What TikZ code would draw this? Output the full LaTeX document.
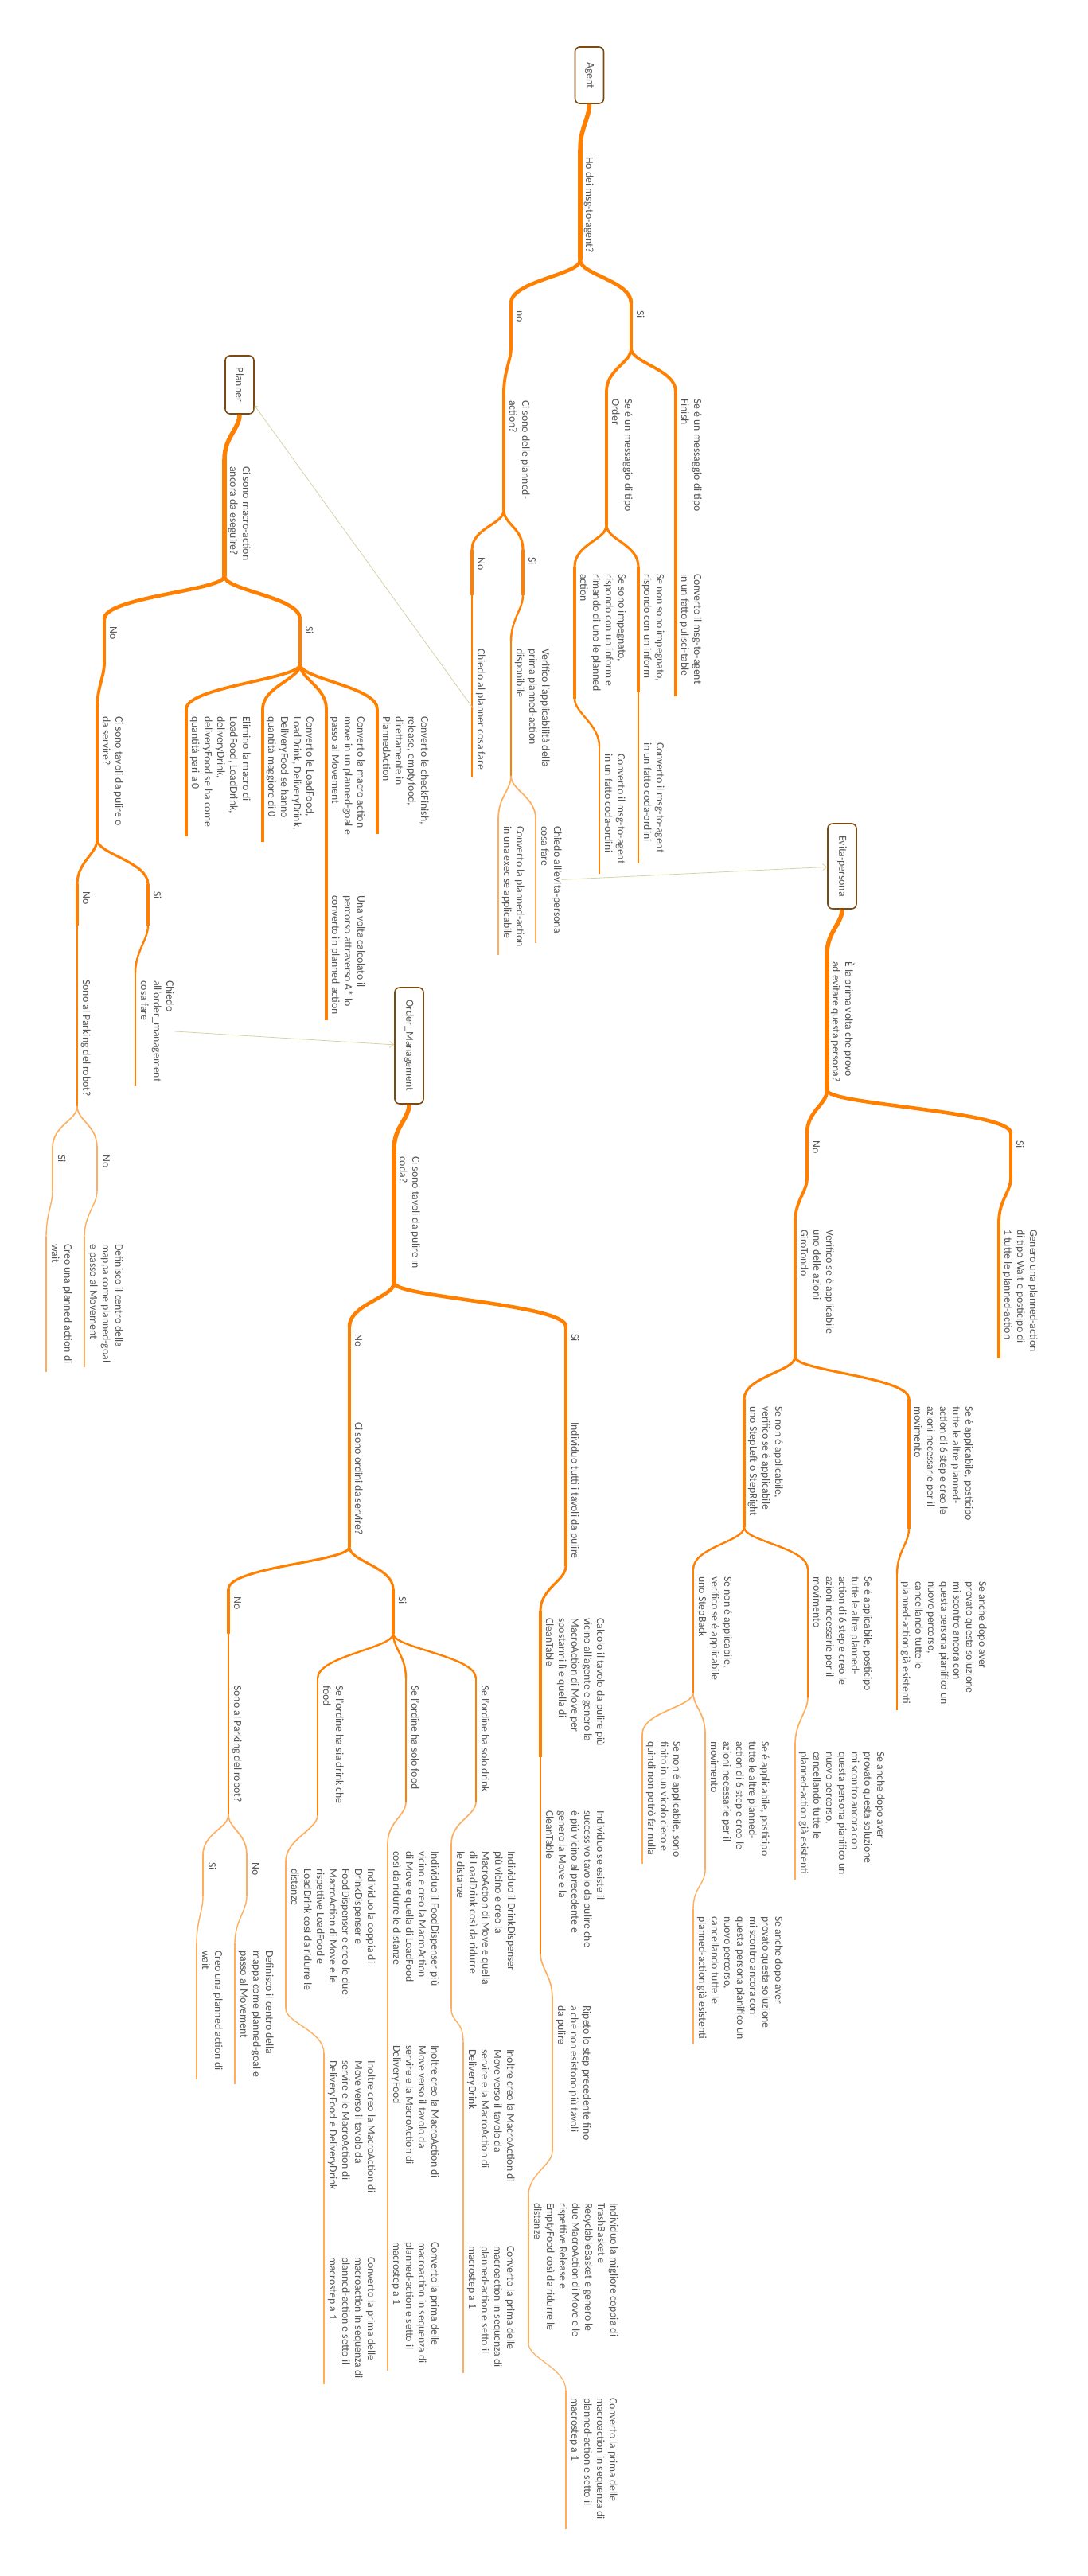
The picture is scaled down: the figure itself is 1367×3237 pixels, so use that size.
\documentclass[tikz,border=0pt]{standalone}
\usepackage{fontspec}
\setmainfont{Carlito}
\usetikzlibrary{arrows.meta,calc}

\definecolor{mmorange}{HTML}{FF7F00}
\definecolor{mmlight}{HTML}{FFAE5E}
\definecolor{txtgray}{HTML}{555555}
\definecolor{boxbrown}{HTML}{7B4A12}
\definecolor{reflink}{HTML}{D6D2A6}
\newcommand{\tfont}{\fontsize{13.8}{16}\selectfont}

\begin{document}
\begin{tikzpicture}[
  x=1pt, y=-1pt,
  l1/.style={draw=mmorange, line width=5.5pt},
  l2/.style={draw=mmorange, line width=4.6pt},
  l3/.style={draw=mmorange, line width=3.8pt},
  l4/.style={draw=mmorange, line width=3.1pt},
  l5/.style={draw=mmorange, line width=2.4pt},
  l6/.style={draw=mmlight, line width=1.7pt},
  l7/.style={draw=mmlight, line width=1.4pt},
  l8/.style={draw=mmlight, line width=1.2pt},
  txt/.style={rotate=-90, anchor=south west, inner sep=0pt, align=left,
    text=txtgray, font=\tfont, execute at begin node=\strut, execute at end node=\strut},
  rootbox/.style={rotate=-90, draw=boxbrown, line width=1.6pt, rounded corners=6pt,
    fill=white, minimum height=36pt, inner sep=0pt, text=txtgray, font=\tfont},
  ref/.style={draw=reflink, line width=0.8pt, -{Straight Barb[length=5pt,width=8pt]}},
]
\useasboundingbox (0,0) rectangle (1367,3237);

% topic: name, x, text start, underline end, level, text
\def\topic#1#2#3#4#5#6{%
  \coordinate (#1-a) at (#2,#3-9);
  \coordinate (#1-b) at (#2,#4);
  \draw[#5] (#1-a) -- (#1-b);
  \node[txt] (#1) at ($(#1-a)+(2,9)$) {#6};
}
% branch from the end of one topic to the start of the next
\def\link#1#2#3{\draw[#3] (#1-b) .. controls +(0,18) and +(0,-28) .. (#2-a);}

\def\postpone{Se é applicabile, posticipo\\tutte le altre planned-\\action di 6 step e creo le\\azioni necessarie per il\\movimento}
\def\anchedopo{Se anche dopo aver\\provato questa soluzione\\mi scontro ancora con\\questa persona pianifico un\\nuovo percorso,\\cancellando tutte le\\planned-action già esistenti}
\def\convfirst{Converto la prima delle\\macroaction in sequenza di\\planned-action e setto il\\macrostep a 1}

% ---------------- Agent ----------------
\node[rootbox, minimum width=71pt] (agent) at (740.5,94.5) {Agent};
\coordinate (agent-b) at (agent.east);
\topic{hodei}{729}{197}{327}{l1}{Ho dei msg-to-agent?}
\topic{ano}{642}{390}{436}{l2}{no}
\topic{asi}{793}{390}{438}{l2}{Si}
\topic{delle}{633}{503}{641}{l3}{Ci sono delle planned-\\action?}
\topic{order}{762}{501}{660}{l3}{Se é un messaggio di tipo\\Order}
\topic{finish}{849}{501}{654}{l3}{Se é un messaggio di tipo\\Finish}
\topic{pulisci}{849}{721}{875}{l4}{Converto il msg-to-agent\\in un fatto pulisci-table}
\topic{impeg}{722}{721}{878}{l4}{Se sono impegnato,\\rispondo con un inform e\\rimando di uno le planned\\action}
\topic{nonimpeg}{802}{721}{870}{l4}{Se non sono impegnato,\\rispondo con un inform}
\topic{codaa}{802}{933}{1085}{l5}{Converto il msg-to-agent\\in un fatto coda-ordini}
\topic{codab}{753}{947}{1098}{l5}{Converto il msg-to-agent\\in un fatto coda-ordini}
\topic{pno}{593}{700}{748}{l4}{No}
\topic{psi}{657}{700}{748}{l4}{Si}
\topic{chiedopl}{593}{815}{977}{l5}{Chiedo al planner cosa fare}
\topic{verifico}{642}{815}{975}{l5}{Verifico l'applicabilità della\\prima planned-action\\disponibile}
\topic{convexec}{626}{1038}{1200}{l6}{Converto la planned-action\\in una exec se applicabile}
\topic{chiedoev}{673}{1038}{1185}{l6}{Chiedo all'evita-persona\\cosa fare}

\link{agent}{hodei}{l1}
\link{hodei}{ano}{l2}
\link{hodei}{asi}{l2}
\link{ano}{delle}{l3}
\link{asi}{order}{l3}
\link{asi}{finish}{l3}
\link{finish}{pulisci}{l4}
\link{order}{impeg}{l4}
\link{order}{nonimpeg}{l4}
\link{nonimpeg}{codaa}{l5}
\link{impeg}{codab}{l5}
\link{delle}{pno}{l4}
\link{delle}{psi}{l4}
\link{pno}{chiedopl}{l5}
\link{psi}{verifico}{l5}
\link{verifico}{convexec}{l6}
\link{verifico}{chiedoev}{l6}

% ---------------- Planner ----------------
\node[rootbox, minimum width=73pt] (planner) at (301,483.5) {Planner};
\coordinate (planner-b) at (planner.east);
\topic{macro}{282}{586}{724}{l1}{Ci sono macro-action\\ancora da eseguire?}
\topic{mno}{131}{787}{833}{l2}{No}
\topic{msi}{377}{787}{835}{l2}{Si}
\topic{elimino}{234}{900}{1051}{l3}{Elimino la macro di\\LoadFood, LoadDrink,\\deliveryDrink,\\deliveryFood se ha come\\quantità pari a 0}
\topic{loadf}{330}{900}{1058}{l3}{Converto le LoadFood,\\LoadDrink, DeliveryDrink,\\DeliveryFood se hanno\\quantità maggiore di 0}
\topic{macromove}{410}{900}{1057}{l3}{Converto la macro action\\move in un planned-goal e\\passo al Movement}
\topic{checkf}{474}{900}{1048}{l3}{Converto le checkFinish,\\release, emptyfood,\\direttamente in\\PlannedAction}
\topic{unavolta}{410}{1125}{1282}{l4}{Una volta calcolato il\\percorso attraverso A* lo\\converto in planned action}
\topic{tavoli}{122}{900}{1055}{l3}{Ci sono tavoli da pulire o\\da servire?}
\topic{tno}{97}{1120}{1163}{l4}{No}
\topic{tsi}{186}{1120}{1163}{l4}{Si}
\topic{parka}{97}{1231}{1390}{l5}{Sono al Parking del robot?}
\topic{chiedoom}{170}{1232}{1365}{l5}{Chiedo\\all'order\_management\\cosa fare}
\topic{pasi}{66}{1451}{1496}{l6}{Si}
\topic{pano}{122}{1451}{1496}{l6}{No}
\topic{waita}{58}{1563}{1724}{l7}{Creo una planned action di\\wait}
\topic{centroa}{106}{1563}{1718}{l7}{Definisco il centro della\\mappa come planned-goal\\e passo al Movement}

\link{planner}{macro}{l1}
\link{macro}{mno}{l2}
\link{macro}{msi}{l2}
\link{msi}{elimino}{l3}
\link{msi}{loadf}{l3}
\link{msi}{macromove}{l3}
\link{msi}{checkf}{l3}
\link{macromove}{unavolta}{l4}
\link{mno}{tavoli}{l3}
\link{tavoli}{tno}{l4}
\link{tavoli}{tsi}{l4}
\link{tno}{parka}{l5}
\link{tsi}{chiedoom}{l5}
\link{parka}{pasi}{l6}
\link{parka}{pano}{l6}
\link{pasi}{waita}{l7}
\link{pano}{centroa}{l7}

% ---------------- Evita-persona ----------------
\node[rootbox, minimum width=107pt] (evita) at (1058,1088.5) {Evita-persona};
\coordinate (evita-b) at (evita.east);
\topic{prima}{1039}{1208}{1370}{l1}{È la prima volta che provo\\ad evitare questa persona?}
\topic{eno}{1014}{1433}{1480}{l2}{No}
\topic{esi}{1270}{1433}{1480}{l2}{Si}
\topic{genero}{1255}{1545}{1707}{l3}{Genero una planned-action\\di tipo Wait e posticipo di\\1 tutte le planned-action}
\topic{giro}{999}{1545}{1705}{l3}{Verifico se è applicabile\\uno delle azioni\\GiroTondo}
\topic{steplr}{935}{1767}{1919}{l4}{Se non é applicabile,\\verifico se é applicabile\\uno StepLeft o StepRight}
\topic{posta}{1142}{1767}{1921}{l4}{\postpone}
\topic{ancha}{1127}{1987}{2149}{l5}{\anchedopo}
\topic{stepb}{871}{1981}{2127}{l5}{Se non é applicabile,\\verifico se é applicabile\\uno StepBack}
\topic{postb}{1015}{1981}{2133}{l5}{\postpone}
\topic{anchb}{999}{2201}{2362}{l6}{\anchedopo}
\topic{vicolo}{807}{2188}{2342}{l6}{Se non é applicabile, sono\\finito in un vicolo cieco e\\quindi non potrò far nulla}
\topic{postc}{886}{2188}{2350}{l6}{\postpone}
\topic{anchc}{871}{2408}{2569}{l7}{\anchedopo}

\link{evita}{prima}{l1}
\link{prima}{eno}{l2}
\link{prima}{esi}{l2}
\link{esi}{genero}{l3}
\link{eno}{giro}{l3}
\link{giro}{steplr}{l4}
\link{giro}{posta}{l4}
\link{posta}{ancha}{l5}
\link{steplr}{stepb}{l5}
\link{steplr}{postb}{l5}
\link{postb}{anchb}{l6}
\link{stepb}{vicolo}{l6}
\link{stepb}{postc}{l6}
\link{postc}{anchc}{l7}

% ---------------- Order_Management ----------------
\node[rootbox, minimum width=146pt] (om) at (514,1314) {Order\_Management};
\coordinate (om-b) at (om.east);
\topic{coda}{495}{1453}{1612}{l1}{Ci sono tavoli da pulire in\\coda?}
\topic{ono}{439}{1676}{1720}{l2}{No}
\topic{osi}{711}{1676}{1720}{l2}{Si}
\topic{ordini}{439}{1787}{1944}{l3}{Ci sono ordini da servire?}
\topic{tutti}{711}{1787}{1968}{l3}{Individuo tutti i tavoli da pulire}
\topic{calcolo}{679}{2033}{2208}{l4}{Calcolo il tavolo da pulire più\\vicino all'agente e genero la\\MacroAction di Move per\\spostarmi lì e quella di\\CleanTable}
\topic{esiste}{679}{2275}{2455}{l5}{Individuo se esiste il\\successivo tavolo da pulire che\\è più vicino al precedente e\\genero la Move e la\\CleanTable}
\topic{ripeto}{694}{2520}{2703}{l6}{Ripeto lo step precedente fino\\a che non esistono più tavoli\\da pulire}
\topic{migliore}{664}{2768}{2945}{l7}{Individuo la migliore coppia di\\TrashBasket e\\RecyclableBasket e genero le\\due MacroAction di Move e le\\rispettive Release e\\EmptyFood così da ridurre le\\distanze}
\topic{convm}{711}{3013}{3178}{l8}{\convfirst}
\topic{odno}{287}{2006}{2053}{l4}{No}
\topic{odsi}{494}{2006}{2053}{l4}{Si}
\topic{parkb}{287}{2118}{2280}{l5}{Sono al Parking del robot?}
\topic{pbsi}{255}{2340}{2383}{l6}{Si}
\topic{pbno}{310}{2340}{2383}{l6}{No}
\topic{waitb}{247}{2451}{2613}{l7}{Creo una planned action di\\wait}
\topic{centrob}{295}{2451}{2619}{l7}{Definisco il centro della\\mappa come planned-goal e\\passo al Movement}
\topic{sia}{399}{2118}{2281}{l5}{Se l'ordine ha sia drink che\\food}
\topic{solofood}{510}{2118}{2264}{l5}{Se l'ordine ha solo food}
\topic{solodrink}{598}{2118}{2264}{l5}{Se l'ordine ha solo drink}
\topic{coppia}{359}{2348}{2524}{l6}{Individuo la coppia di\\DrinkDispenser e\\FoodDispenser e creo le due\\MacroAction di Move e le\\rispettive LoadFood e\\LoadDrink così da ridurre le\\distanze}
\topic{inolsia}{407}{2589}{2790}{l7}{Inoltre creo la MacroAction di\\Move verso il tavolo da\\servire e le MacroAction di\\DeliveryFood e DeliveryDrink}
\topic{convsia}{407}{2836}{2996}{l8}{\convfirst}
\topic{fooddisp}{487}{2326}{2500}{l6}{Individuo il FoodDispenser più\\vicino e creo la MacroAction\\di Move e quella di LoadFood\\così da ridurre le distanze}
\topic{inolfood}{487}{2570}{2760}{l7}{Inoltre creo la MacroAction di\\Move verso il tavolo da\\servire e la MacroAction di\\DeliveryFood}
\topic{convfood}{487}{2817}{2979}{l8}{\convfirst}
\topic{drinkdisp}{567}{2326}{2524}{l6}{Individuo il DrinkDispenser\\più vicino e creo la\\MacroAction di Move e quella\\di LoadDrink così da ridurre\\le distanze}
\topic{inoldrink}{582}{2575}{2770}{l7}{Inoltre creo la MacroAction di\\Move verso il tavolo da\\servire e la MacroAction di\\DeliveryDrink}
\topic{convdrink}{582}{2822}{2982}{l8}{\convfirst}

\link{om}{coda}{l1}
\link{coda}{ono}{l2}
\link{coda}{osi}{l2}
\link{ono}{ordini}{l3}
\link{osi}{tutti}{l3}
\link{tutti}{calcolo}{l4}
\link{calcolo}{esiste}{l5}
\link{esiste}{ripeto}{l6}
\link{ripeto}{migliore}{l7}
\link{migliore}{convm}{l8}
\link{ordini}{odno}{l4}
\link{ordini}{odsi}{l4}
\link{odno}{parkb}{l5}
\link{parkb}{pbsi}{l6}
\link{parkb}{pbno}{l6}
\link{pbsi}{waitb}{l7}
\link{pbno}{centrob}{l7}
\link{odsi}{sia}{l5}
\link{odsi}{solofood}{l5}
\link{odsi}{solodrink}{l5}
\link{sia}{coppia}{l6}
\link{coppia}{inolsia}{l7}
\link{inolsia}{convsia}{l8}
\link{solofood}{fooddisp}{l6}
\link{fooddisp}{inolfood}{l7}
\link{inolfood}{convfood}{l8}
\link{solodrink}{drinkdisp}{l6}
\link{drinkdisp}{inoldrink}{l7}
\link{inoldrink}{convdrink}{l8}

% ---------------- cross references ----------------
\draw[ref] (chiedopl.south) -- (planner);
\draw[ref] (chiedoev.north) -- (evita);
\draw[ref] (chiedoom.north) -- (om);

\end{tikzpicture}
\end{document}
